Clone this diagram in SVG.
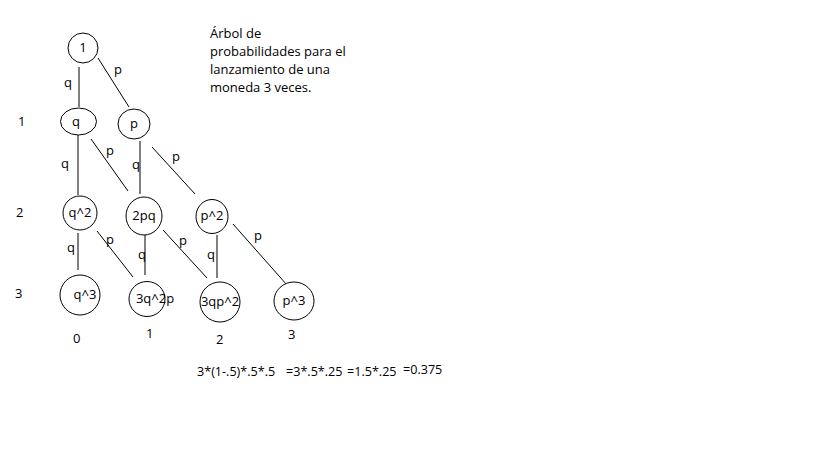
<svg xmlns="http://www.w3.org/2000/svg" width="819" height="460" viewBox="0 0 819 460">
<style>
text{font-family:"Open Sans","Liberation Sans",sans-serif;font-size:13px;fill:#000}
.n ellipse{fill:#fff;stroke:#000;stroke-width:1}
.n text{text-anchor:middle}
#edges line{stroke:#000;stroke-width:1}
#formula text{font-size:12.6px}
</style>
<rect width="819" height="460" fill="#fff"/>
<g id="edges">
<line x1="79" y1="67" x2="79" y2="107"/>
<line x1="98" y1="58" x2="129" y2="107"/>
<line x1="78" y1="135" x2="78" y2="195"/>
<line x1="91" y1="139" x2="128" y2="191"/>
<line x1="140" y1="141" x2="140" y2="194"/>
<line x1="152" y1="147" x2="195" y2="194"/>
<line x1="78" y1="233" x2="78" y2="270"/>
<line x1="97" y1="231" x2="133" y2="277"/>
<line x1="145" y1="235" x2="145" y2="275"/>
<line x1="163" y1="230" x2="207" y2="278"/>
<line x1="217" y1="235" x2="217" y2="278"/>
<line x1="233" y1="224" x2="287" y2="285"/>
</g>
<g id="edge-labels">
<text x="64" y="87">q</text>
<text x="114" y="74">p</text>
<text x="61" y="168">q</text>
<text x="106" y="155">p</text>
<text x="132" y="169">q</text>
<text x="172" y="161">p</text>
<text x="67" y="252">q</text>
<text x="106" y="244">p</text>
<text x="138" y="259">q</text>
<text x="179" y="245">p</text>
<text x="207" y="259">q</text>
<text x="254" y="240">p</text>
</g>
<g id="n1" class="n"><ellipse cx="83" cy="48" rx="15" ry="15"/><text x="83" y="52">1</text></g>
<g id="nq" class="n"><ellipse cx="78.5" cy="121.5" rx="18" ry="13.5"/><text x="76" y="126">q</text></g>
<g id="np" class="n"><ellipse cx="134" cy="124" rx="16" ry="15"/><text x="134" y="128">p</text></g>
<g id="nq2" class="n"><ellipse cx="80" cy="213" rx="17" ry="17"/><text x="80" y="217">q^2</text></g>
<g id="n2pq" class="n"><ellipse cx="144" cy="216" rx="18" ry="19"/><text x="144" y="220">2pq</text></g>
<g id="np2" class="n"><ellipse cx="212" cy="216.5" rx="16" ry="17"/><text x="212" y="220">p^2</text></g>
<g id="nq3" class="n"><ellipse cx="80" cy="295" rx="20" ry="20"/><text x="85" y="299">q^3</text></g>
<g id="n3q2p" class="n"><ellipse cx="147" cy="299" rx="18" ry="17.5"/><text x="155" y="303">3q^2p</text></g>
<g id="n3qp2" class="n"><ellipse cx="220" cy="302" rx="20" ry="20"/><text x="220" y="306">3qp^2</text></g>
<g id="np3" class="n"><ellipse cx="294" cy="301" rx="20" ry="19"/><text x="294" y="305">p^3</text></g>
<g id="levels">
<text x="18" y="126">1</text>
<text x="16" y="217">2</text>
<text x="15" y="298">3</text>
<text x="73" y="343">0</text>
<text x="146" y="338">1</text>
<text x="216" y="344">2</text>
<text x="288" y="339">3</text>
</g>
<g id="title">
<text x="210" y="38">Árbol de</text>
<text x="210" y="56">probabilidades para el</text>
<text x="210" y="74">lanzamiento de una</text>
<text x="210" y="92">moneda 3 veces.</text>
</g>
<g id="formula">
<text x="197" y="376">3*(1-.5)*.5*.5</text>
<text x="286" y="376">=3*.5*.25</text>
<text x="347" y="376">=1.5*.25</text>
<text x="403" y="374">=0.375</text>
</g>
</svg>
